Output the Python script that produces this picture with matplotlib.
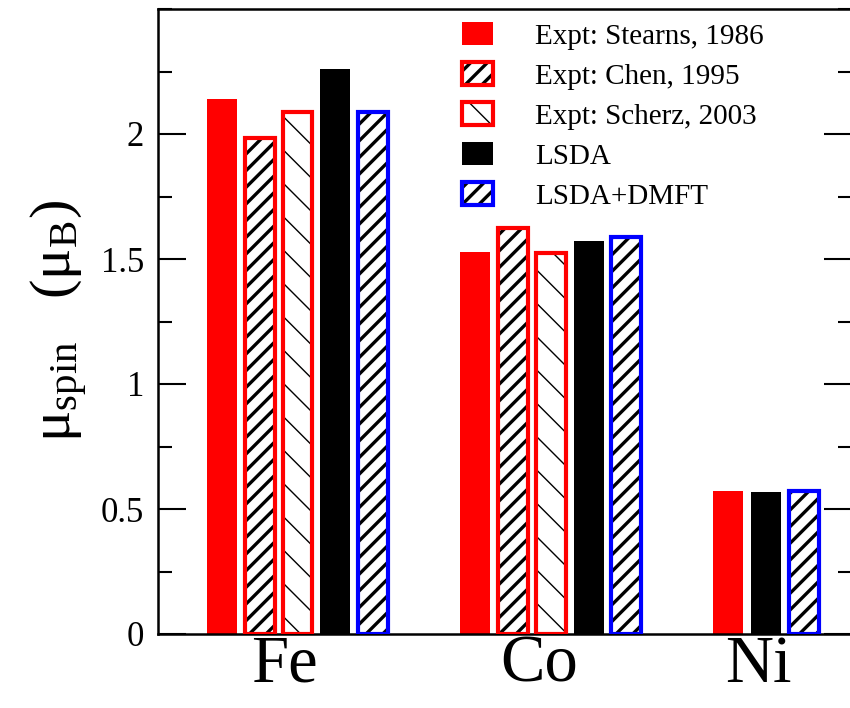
import numpy as np
import matplotlib
matplotlib.use("Agg")
import matplotlib.pyplot as plt
from matplotlib.ticker import MultipleLocator
from matplotlib.patches import Rectangle

# ---------------- data ----------------
elements = ["Fe", "Co", "Ni"]
stearns = [2.14, 1.527, 0.573]
chen = [1.986, 1.624, np.nan]
scherz = [2.088, 1.526, np.nan]
lsda = [2.261, 1.571, 0.569]
dmft = [2.088, 1.590, 0.573]
series_labels = ["Expt: Stearns, 1986", "Expt: Chen, 1995", "Expt: Scherz, 2003",
                 "LSDA", "LSDA+DMFT"]
yticks = [0, 0.5, 1, 1.5, 2]
ytick_labels = ["0", "0.5", "1", "1.5", "2"]

plt.rcParams['font.family'] = ['Liberation Serif', 'DejaVu Serif']
plt.rcParams['mathtext.fontset'] = 'custom'
plt.rcParams['mathtext.rm'] = 'Liberation Serif'
plt.rcParams['mathtext.it'] = 'Liberation Serif:italic'

fig = plt.figure(figsize=(8.5, 7.08), dpi=100)
ax = fig.add_axes([158 / 850, 74 / 708, (852 - 158) / 850, (699 - 74) / 708])

series = [stearns, chen, scherz, lsda, dmft]
group_start = [0.0, 6.7, 13.4]
width = 0.79
edge_lw = 3.0
THICK = 2.4
THIN = 1.0

def positions(si):
    xs, vals = [], []
    for gi, g in enumerate(group_start):
        avail = [k for k in range(len(series)) if not np.isnan(series[k][gi])]
        if si in avail:
            xs.append(g + avail.index(si))
            vals.append(series[si][gi])
    return xs, vals

def set_hlw(container, lw):
    for p in container:
        if hasattr(p, "set_hatch_linewidth"):
            p.set_hatch_linewidth(lw)

handles = []
x, v = positions(0)
b = ax.bar(x, v, width, color="#ff0000", linewidth=0, zorder=2)
handles.append(b[0])

x, v = positions(1)
with plt.rc_context({'hatch.linewidth': THICK}):
    bh = ax.bar(x, v, width, facecolor="white", edgecolor="black", hatch="//",
                linewidth=0, zorder=2)
set_hlw(bh, THICK)
be = ax.bar(x, v, width, facecolor="none", edgecolor="#ff0000", linewidth=edge_lw, zorder=3)
handles.append((bh[0], be[0]))

x, v = positions(2)
with plt.rc_context({'hatch.linewidth': THIN}):
    bh2 = ax.bar(x, v, width, facecolor="white", edgecolor="black", hatch="\\",
                 linewidth=0, zorder=2)
set_hlw(bh2, THIN)
be2 = ax.bar(x, v, width, facecolor="none", edgecolor="#ff0000", linewidth=edge_lw, zorder=3)
handles.append((bh2[0], be2[0]))

x, v = positions(3)
b = ax.bar(x, v, width, color="black", linewidth=0, zorder=2)
handles.append(b[0])

x, v = positions(4)
with plt.rc_context({'hatch.linewidth': THICK}):
    bh3 = ax.bar(x, v, width, facecolor="white", edgecolor="black", hatch="//",
                 linewidth=0, zorder=2)
set_hlw(bh3, THICK)
be3 = ax.bar(x, v, width, facecolor="none", edgecolor="#0000ff", linewidth=edge_lw, zorder=3)
handles.append((bh3[0], be3[0]))

ax.set_xlim(-1.693, 16.67)
ax.set_ylim(0, 2.5)

label_x = [1.64, 8.39, 14.2]
ax.set_xticks(label_x)
ax.set_xticklabels(elements, fontsize=48)
ax.tick_params(axis='x', length=0, pad=0.5)

ax.set_yticks(yticks)
ax.set_yticklabels(ytick_labels, fontsize=25)
ax.yaxis.set_minor_locator(MultipleLocator(0.25))
ax.tick_params(axis='y', which='major', direction='in', length=20, width=1.5,
               left=True, right=True, pad=10)
ax.tick_params(axis='y', which='minor', direction='in', length=10, width=1.5,
               left=True, right=True)
for s in ax.spines.values():
    s.set_linewidth(1.8)

ax.set_ylabel(r"$\mathrm{μ_{spin}\ \ \ (μ_B)}$", fontsize=42, labelpad=8)

with plt.rc_context({'hatch.linewidth': THICK}):
    leg = ax.legend(handles, series_labels, loc="upper left",
                    bbox_to_anchor=(462 / 850, 1 - 22 / 708), bbox_transform=fig.transFigure,
                    frameon=False, fontsize=21, handlelength=1.05, handleheight=0.85,
                    handletextpad=1.45, labelspacing=0.42, borderpad=0, borderaxespad=0)
for r in leg.findobj(Rectangle):
    h = r.get_hatch()
    if h and hasattr(r, "set_hatch_linewidth"):
        r.set_hatch_linewidth(THIN if "\\" in h else THICK)

fig.savefig("out.png", dpi=100)
